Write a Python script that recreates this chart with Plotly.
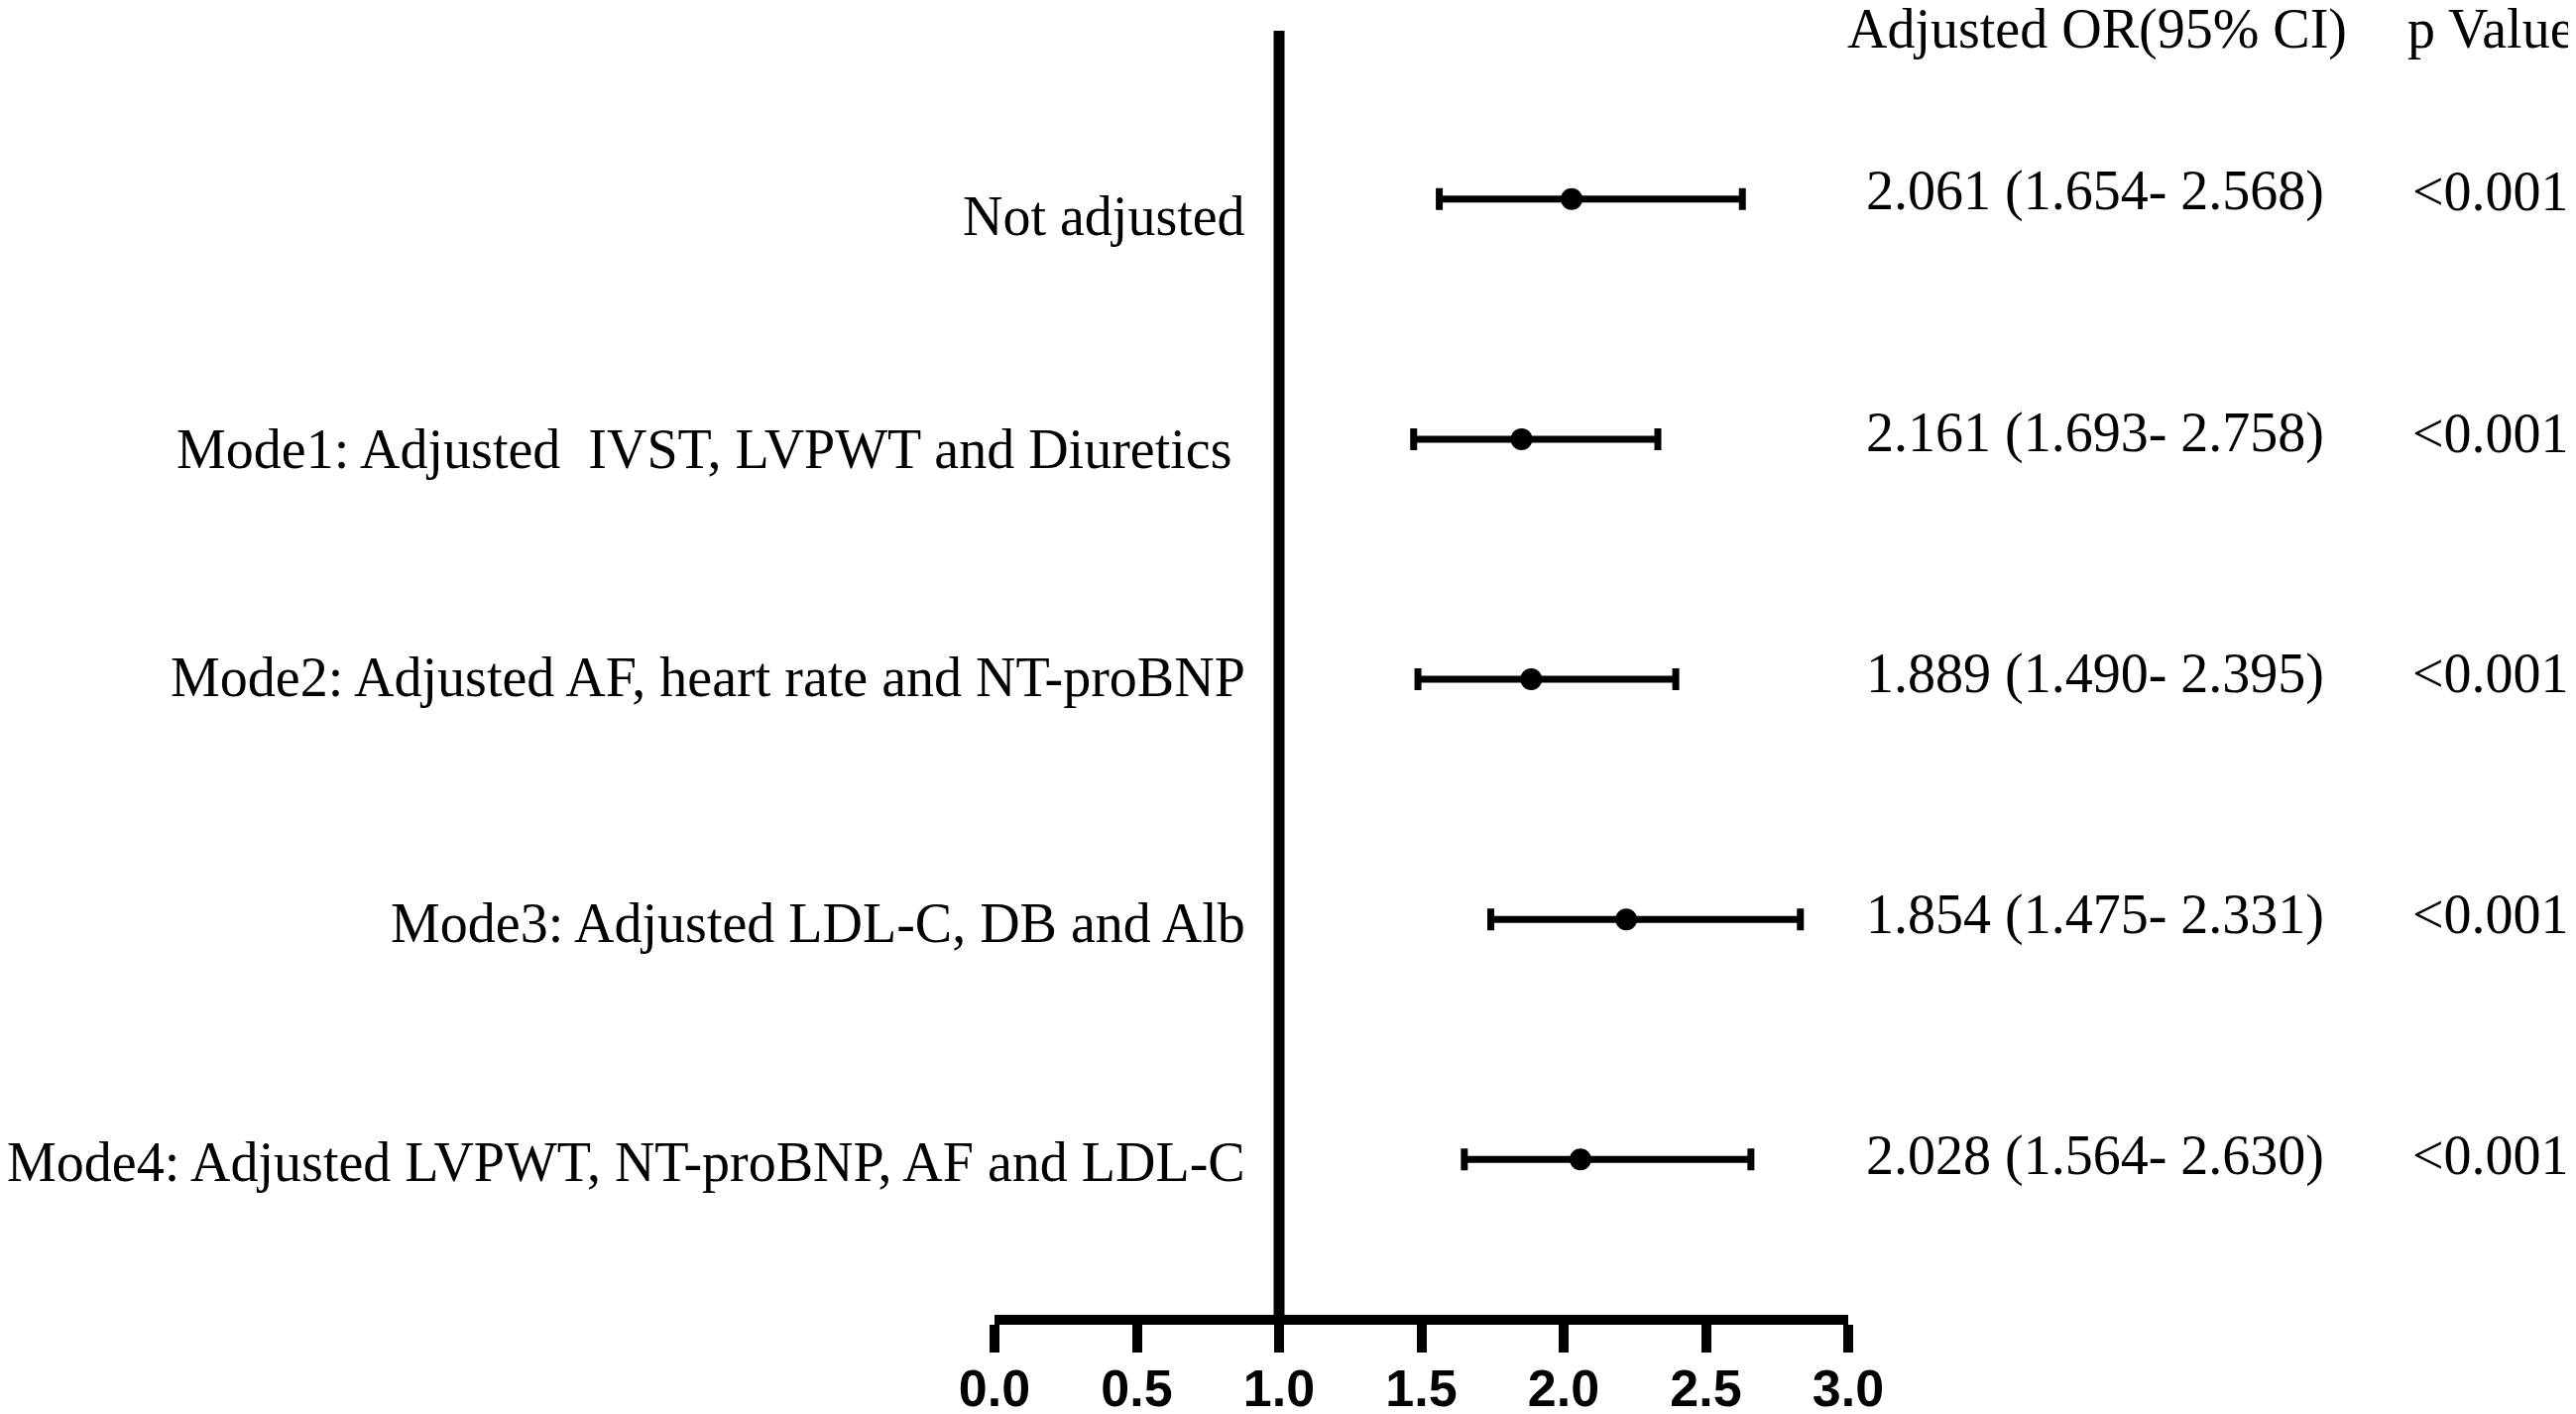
import plotly.graph_objects as go

# ---- data ----
labels = [
    "Not adjusted",
    "Mode1: Adjusted  IVST, LVPWT and Diuretics ",
    "Mode2: Adjusted AF, heart rate and NT-proBNP",
    "Mode3: Adjusted LDL-C, DB and Alb",
    "Mode4: Adjusted LVPWT, NT-proBNP, AF and LDL-C",
]
row_pos = [5, 4, 3, 2, 1]
or_est = [2.028, 1.852, 1.886, 2.220, 2.059]
ci_low = [1.563, 1.473, 1.488, 1.744, 1.651]
ci_high = [2.628, 2.331, 2.394, 2.832, 2.658]
or_text = [
    "2.061 (1.654- 2.568)",
    "2.161 (1.693- 2.758)",
    "1.889 (1.490- 2.395)",
    "1.854 (1.475- 2.331)",
    "2.028 (1.564- 2.630)",
]
p_text = ["<0.001", "<0.001", "<0.001", "<0.001", "<0.001"]
header_or = "Adjusted OR(95% CI)"
header_p = "p Value"
x_ticks = [0.0, 0.5, 1.0, 1.5, 2.0, 2.5, 3.0]
x_ticktext = ["0.0", "0.5", "1.0", "1.5", "2.0", "2.5", "3.0"]

# ---- layout constants (page body adds an 8px offset) ----
OFF = 8
W, H = 2598 - OFF, 1426 - OFF
ML = 1003 - OFF
MT = 31 - OFF
PLOT_RIGHT = 1864 - OFF
PLOT_BOTTOM = 1326 - OFF
MR = W - PLOT_RIGHT
MB = H - PLOT_BOTTOM
PW = W - ML - MR
PH = H - MT - MB

def px_x(px):
    return (px - OFF - ML) / PW

def px_y(py):
    return 1 - (py - OFF - MT) / PH

serif = "Liberation Serif, Times New Roman, serif"
FS = 56

err_plus = [h - m for h, m in zip(ci_high, or_est)]
err_minus = [m - l for m, l in zip(or_est, ci_low)]

fig = go.Figure()
fig.add_trace(go.Scatter(
    x=or_est, y=row_pos, mode="markers",
    marker=dict(color="black", size=22),
    error_x=dict(type="data", array=err_plus, arrayminus=err_minus,
                 color="black", thickness=7, width=11, visible=True),
    showlegend=False, hoverinfo="skip", cliponaxis=False,
))

# reference line at OR = 1
fig.add_shape(type="line", xref="x", yref="paper", x0=1, x1=1, y0=0, y1=1,
              line=dict(color="black", width=11))

label_shift = [-17, -10, 2, -4, -3]
value_shift = [8, 6, 6, 5, 4]
annotations = []
for i, (lab, yv) in enumerate(zip(labels, row_pos)):
    annotations.append(dict(text=lab, x=px_x(1258), xref="paper", y=yv, yref="y",
                            xanchor="right", yanchor="middle", showarrow=False,
                            yshift=label_shift[i], font=dict(family=serif, size=FS, color="black")))
    annotations.append(dict(text=or_text[i], x=px_x(2113), xref="paper", y=yv, yref="y",
                            xanchor="center", yanchor="middle", showarrow=False,
                            yshift=value_shift[i], font=dict(family=serif, size=FS, color="black")))
    annotations.append(dict(text=p_text[i], x=px_x(2512), xref="paper", y=yv, yref="y",
                            xanchor="center", yanchor="middle", showarrow=False,
                            yshift=value_shift[i], font=dict(family=serif, size=FS, color="black")))
annotations.append(dict(text=header_or, x=px_x(2115), xref="paper", y=px_y(29), yref="paper",
                        xanchor="center", yanchor="middle", showarrow=False,
                        font=dict(family=serif, size=FS, color="black")))
annotations.append(dict(text=header_p, x=px_x(2512), xref="paper", y=px_y(29), yref="paper",
                        xanchor="center", yanchor="middle", showarrow=False,
                        font=dict(family=serif, size=FS, color="black")))

fig.update_layout(
    width=W, height=H,
    margin=dict(l=ML, r=MR, t=MT, b=MB, pad=0, autoexpand=False),
    paper_bgcolor="white", plot_bgcolor="white",
    annotations=annotations,
    xaxis=dict(range=[0, 3], tickvals=x_ticks, ticktext=x_ticktext,
               showline=True, linecolor="black", linewidth=10,
               ticks="outside", ticklen=28, tickwidth=10, tickcolor="black",
               ticklabelstandoff=-8,
               showgrid=False, zeroline=False, fixedrange=True, automargin=False,
               tickfont=dict(family="Liberation Sans, Arial, sans-serif", size=52,
                             color="black", weight="bold"),
               ),
    yaxis=dict(range=[0.353, 5.701], visible=False, showgrid=False, zeroline=False,
               fixedrange=True, automargin=False),
)

fig.write_html("out.html")
